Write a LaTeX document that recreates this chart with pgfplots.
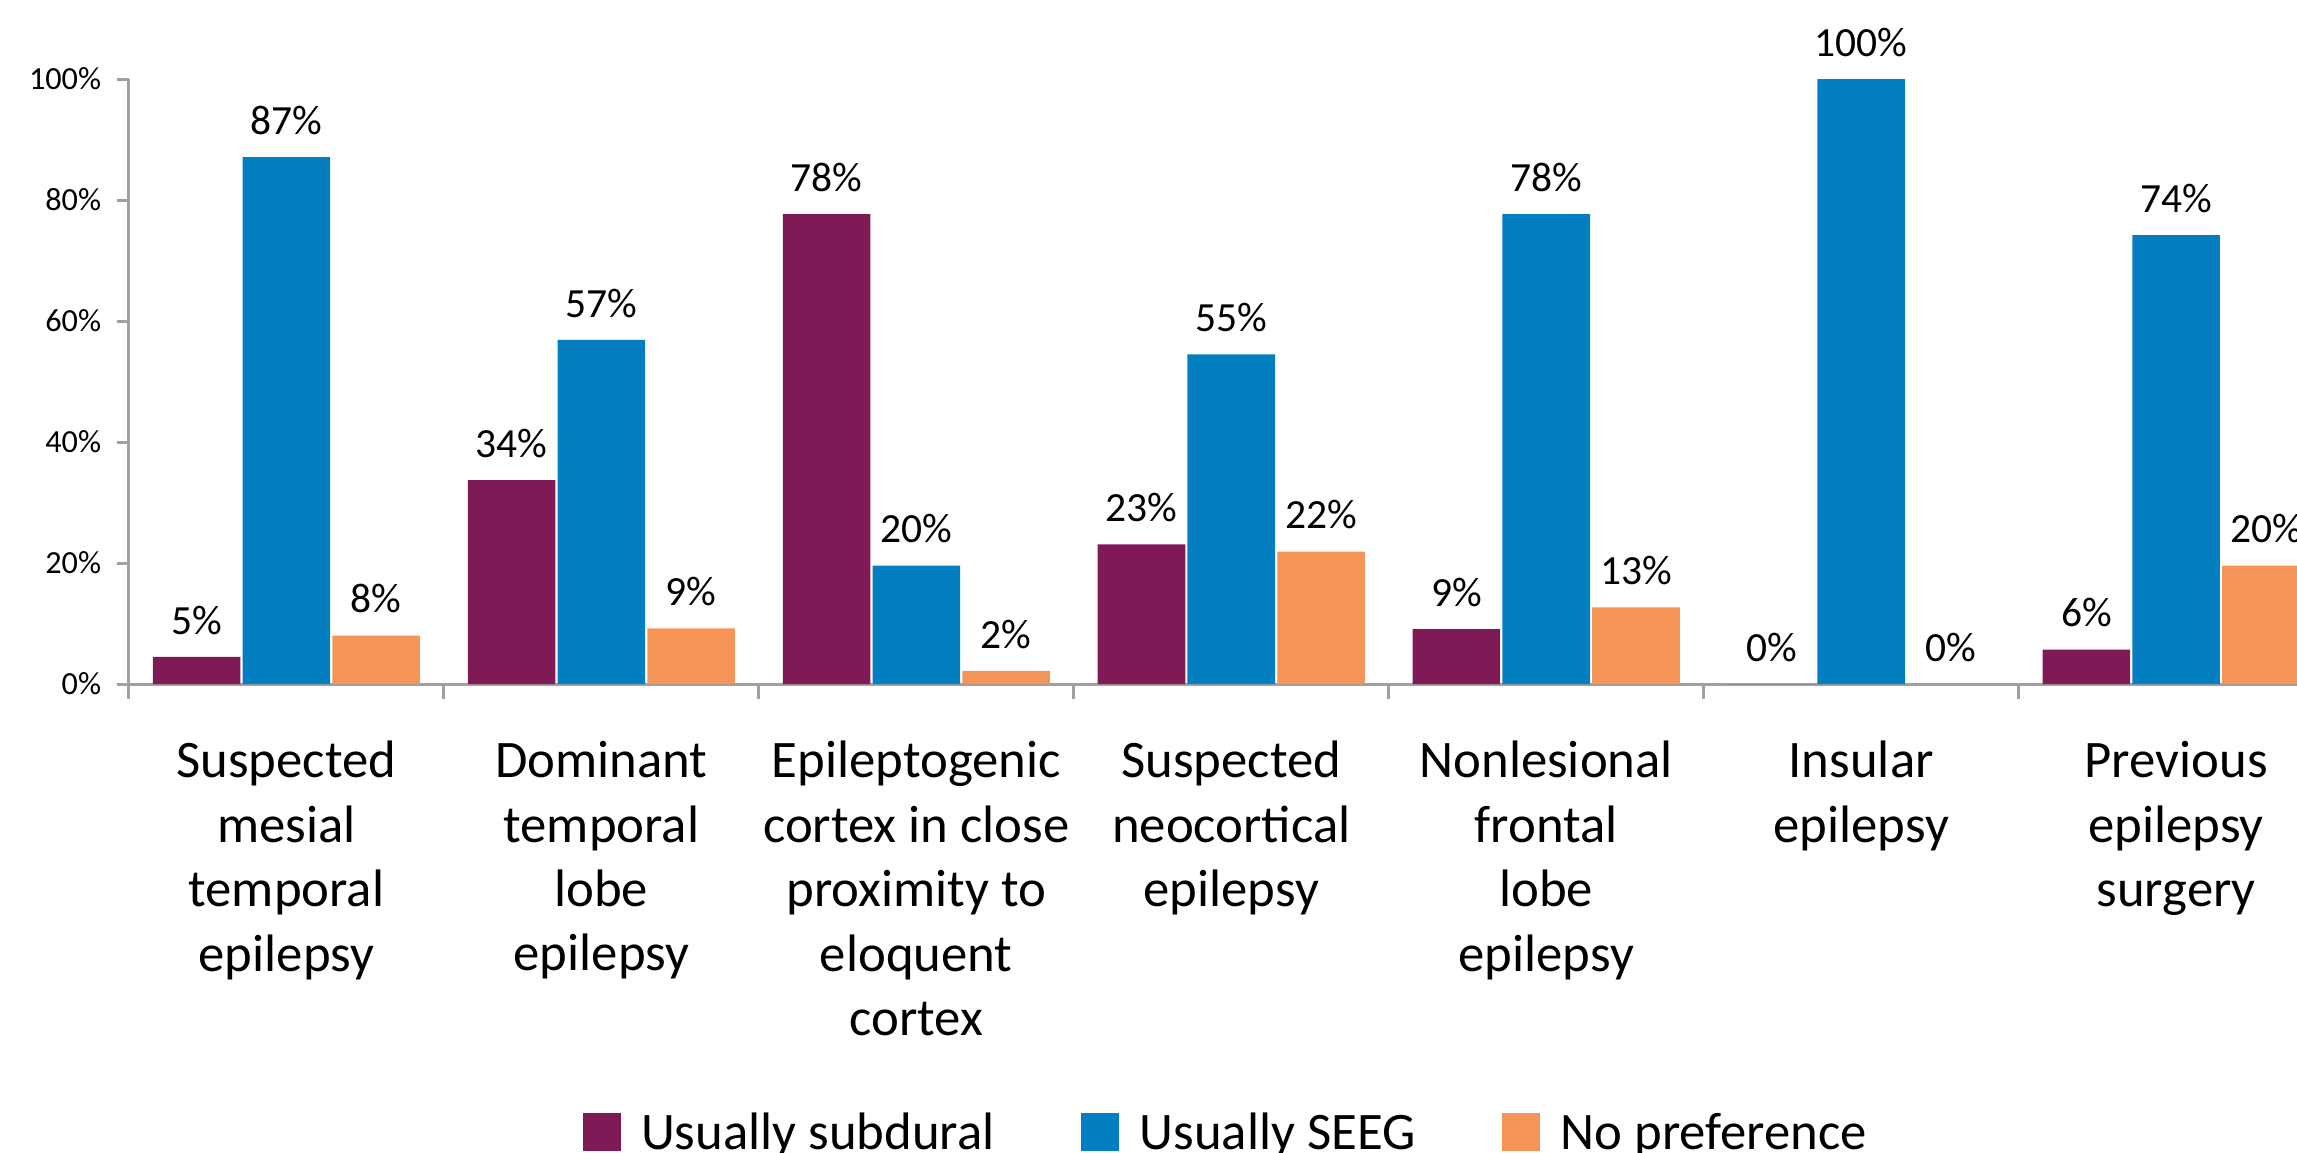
\documentclass[border=0pt]{standalone}
\usepackage{pgfplots}
\pgfplotsset{compat=1.18}
\usepackage{fontspec}
\setmainfont{Carlito}
\definecolor{cpurple}{HTML}{7F1A56}
\definecolor{cblue}{HTML}{037EC0}
\definecolor{corange}{HTML}{F59555}
\definecolor{caxis}{HTML}{A0A0A0}
\pgfplotsset{sqlegend/.style={legend image code/.code={\fill[##1] (0pt,-0.3pt) rectangle (7.8pt,7.6pt);}}}
\begin{document}
\begin{tikzpicture}
\path[use as bounding box, clip] (-26.4pt,-96pt) rectangle (444pt,140.1pt);
\begin{axis}[
  at={(0pt,0pt)}, anchor=south west,
  scale only axis, width=451.5pt, height=123.9pt,
  xmin=-0.5, xmax=6.5, ymin=0, ymax=100,
  clip=false,
  ybar, bar width=0.278,
  axis lines*=left,
  axis line style={caxis, line width=0.6pt},
  tick style={caxis, line width=0.6pt},
  tick align=outside,
  major tick length=2.5pt,
  minor tick length=3pt,
  xtick={0,...,6},
  every major x tick/.append style={draw=none},
  minor xtick={-0.5,0.5,1.5,2.5,3.5,4.5,5.5,6.5},
  xticklabels={{Suspected\\mesial\\temporal\\epilepsy},{Dominant\\temporal\\lobe\\epilepsy},{Epileptogenic\\cortex in close\\proximity to\\eloquent\\cortex},{Suspected\\neocortical\\epilepsy},{Nonlesional\\frontal\\lobe\\epilepsy},{Insular\\epilepsy},{Previous\\epilepsy\\surgery}},
  xticklabel style={align=center, font=\fontsize{10.8}{13.2}\selectfont, anchor=north, inner sep=0pt, yshift=-9.0pt, text=black},
  ytick={0,20,40,60,80,100},
  yticklabel={\pgfmathprintnumber{\tick}\%},
  yticklabel style={font=\fontsize{6.6}{7.9}\selectfont, anchor=east, inner sep=0pt, xshift=-3pt, text=black},
  /pgf/number format/assume math mode=true,
  point meta=explicit symbolic,
  nodes near coords={\pgfplotspointmeta\%},
  nodes near coords style={font=\fontsize{8.5}{10}\selectfont, anchor=south, inner sep=0pt, yshift=4.4pt, text=black},
  legend columns=3,
  legend style={draw=none, at={(axis description cs:0.497,0)}, anchor=north, yshift=-87.6pt,
    inner sep=0pt, font=\fontsize{10.8}{13.2}\selectfont,
    nodes={inner sep=0pt},
    cells={anchor=base west},
    /tikz/every odd column/.append style={column sep=4.2pt},
    /tikz/every even column/.append style={column sep=17.7pt}},
]
\addplot[fill=cpurple, draw=none, bar shift=-0.285, sqlegend] coordinates {(0,4.5)[5] (1,33.7)[34] (2,77.7)[78] (3,23.1)[23] (4,9.1)[9] (5,0)[0] (6,5.7)[6]};
\addlegendentry{Usually subdural}
\addplot[fill=cblue, draw=none, bar shift=0, sqlegend] coordinates {(0,87.1)[87] (1,56.9)[57] (2,19.6)[20] (3,54.5)[55] (4,77.7)[78] (5,100)[100] (6,74.2)[74]};
\addlegendentry{Usually SEEG}
\addplot[fill=corange, draw=none, bar shift=0.285, sqlegend] coordinates {(0,8.0)[8] (1,9.2)[9] (2,2.2)[2] (3,21.9)[22] (4,12.7)[13] (5,0)[0] (6,19.6)[20]};
\addlegendentry{No preference}
\end{axis}
\end{tikzpicture}
\end{document}
